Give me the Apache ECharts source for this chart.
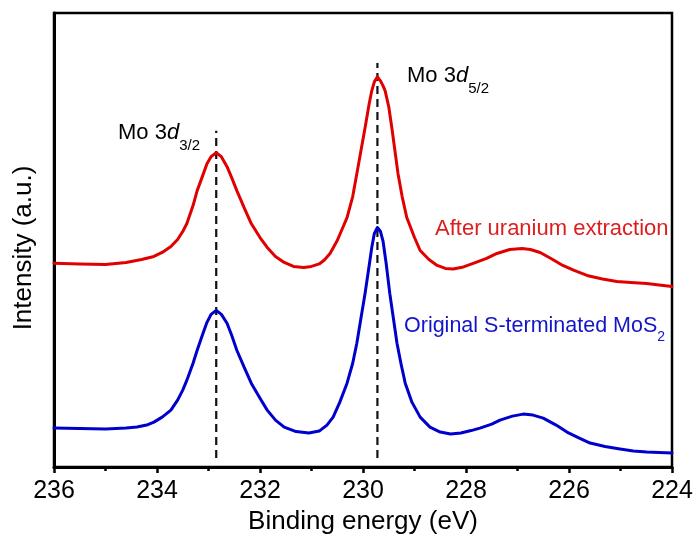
<!DOCTYPE html>
<html>
<head>
<meta charset="utf-8">
<script src="https://cdn.jsdelivr.net/npm/echarts@6/dist/echarts.min.js"></script>
<style>
  html, body { margin: 0; padding: 0; background: #fff; }
  #chart { width: 699px; height: 542px; }
</style>
</head>
<body>
<div id="chart"></div>
<script>
// Mo 3d XPS spectra (binding energy in eV, intensity in arbitrary units)
const energyAfter = [236.0, 235.5, 235.0, 234.6, 234.3, 234.06, 233.9, 233.73, 233.6, 233.5,
  233.42, 233.3, 233.22, 233.12, 233.03, 232.95, 232.85, 232.75, 232.64, 232.55,
  232.45, 232.3, 232.17, 232.0, 231.86, 231.7, 231.53, 231.35, 231.15, 231.0,
  230.85, 230.75, 230.64, 230.5, 230.4, 230.31, 230.2, 230.12, 230.04, 229.96, 229.88,
  229.83, 229.78, 229.72, 229.66, 229.61, 229.57, 229.5, 229.44, 229.38, 229.32,
  229.24, 229.15, 229.0, 228.89, 228.72, 228.56, 228.4, 228.25, 228.05, 227.86,
  227.6, 227.4, 227.15, 226.91, 226.75, 226.56, 226.35, 226.12, 225.9, 225.65,
  225.35, 225.07, 224.8, 224.49, 224.25, 224.0];
const intensityAfter = [204.3, 203.5, 203, 205, 208, 211, 215, 221, 228, 236,
  244, 262, 277, 291, 304, 311, 315, 311, 301, 290,
  277, 259, 244, 230, 220, 211, 205, 201, 200, 201,
  203.5, 207.5, 214, 227, 239, 250, 271, 294, 317, 340, 364,
  377, 386, 391, 387, 382, 377, 361, 340, 317, 294,
  271, 250, 230, 217, 208, 202, 199, 198.5, 200.5, 204,
  209, 214, 218, 219, 218, 215, 209, 202, 197, 192,
  188.5, 186, 185, 184, 182.5, 181];

const energyOriginal = [236.0, 235.5, 235.0, 234.6, 234.39, 234.2, 234.06, 233.9, 233.73, 233.6,
  233.5, 233.42, 233.3, 233.22, 233.12, 233.03, 232.95, 232.85, 232.75, 232.64,
  232.55, 232.45, 232.3, 232.17, 232.0, 231.86, 231.7, 231.53, 231.3, 231.05,
  230.85, 230.7, 230.58, 230.45, 230.31, 230.2, 230.12, 230.04, 229.96, 229.88,
  229.83, 229.78, 229.72, 229.66, 229.61, 229.55, 229.48, 229.41, 229.34, 229.26,
  229.18, 229.05, 228.89, 228.7, 228.5, 228.3, 228.1, 227.9, 227.73, 227.5,
  227.34, 227.1, 226.89, 226.7, 226.5, 226.25, 226.04, 225.8, 225.59, 225.3,
  225.01, 224.75, 224.49, 224.25, 224.0];
const intensityOriginal = [39, 38.5, 38, 39, 40, 42, 45, 50, 57, 67,
  77, 87, 104, 117, 132, 145, 153, 157, 153, 144,
  132, 117, 99, 84, 69, 57, 47, 40, 35.5, 34,
  36, 42, 50, 65, 84, 104, 124, 149, 174, 202,
  220, 234, 240, 236, 226, 204, 174, 149, 124, 103,
  84, 65, 50, 40, 35, 33, 34, 36.5, 39, 43,
  47, 51, 53, 52, 49, 42, 35, 29, 24, 20.5,
  18, 16, 15, 14.5, 14];

// Peak reference positions (dashed guides) and their vertical extent
const peakEnergy = [232.85, 229.72];
const guideTop = [337, 405];
const guideBottom = 9;

const xTicks = { min: 224, max: 236, step: 2 };
const yRange = { min: 0, max: 455 };

const FONT = '"Liberation Sans", Arial, sans-serif';

function pairs(xs, ys) { return xs.map((x, i) => [x, ys[i]]); }

const guideSeries = peakEnergy.map((e, i) => ({
  type: 'line',
  silent: true,
  symbol: 'none',
  z: 1,
  data: [[e, guideBottom], [e, guideTop[i]]],
  lineStyle: { color: '#111', width: 2.2, type: [8, 5] }
}));

const chart = echarts.init(document.getElementById('chart'), null, { renderer: 'canvas' });

chart.setOption({
  animation: false,
  backgroundColor: '#fff',
  grid: {
    left: 54, right: 27, top: 13, bottom: 75,
    show: true, borderColor: '#000', borderWidth: 2.5, backgroundColor: 'transparent'
  },
  xAxis: {
    type: 'value',
    inverse: true,
    min: xTicks.min, max: xTicks.max, interval: xTicks.step,
    name: 'Binding energy (eV)',
    nameLocation: 'middle',
    nameGap: 40,
    nameTextStyle: { fontSize: 26, color: '#000', fontFamily: FONT },
    axisLine: { show: true, lineStyle: { color: '#000', width: 3 } },
    axisTick: { show: true, inside: false, length: 6, lineStyle: { color: '#000', width: 2.5 } },
    minorTick: { show: true, splitNumber: 2, length: 4, lineStyle: { color: '#000', width: 2.5 } },
    axisLabel: { fontSize: 25, color: '#000', fontFamily: FONT, margin: 12 },
    splitLine: { show: false },
    minorSplitLine: { show: false }
  },
  yAxis: {
    type: 'value',
    min: yRange.min, max: yRange.max,
    axisLine: { show: true, lineStyle: { color: '#000', width: 3 } },
    axisTick: { show: false },
    axisLabel: { show: false },
    splitLine: { show: false }
  },
  series: [
    ...guideSeries,
    {
      name: 'After uranium extraction',
      type: 'line',
      smooth: false,
      symbol: 'none',
      z: 3,
      data: pairs(energyAfter, intensityAfter),
      lineStyle: { color: '#e00000', width: 3, join: 'round', cap: 'round' }
    },
    {
      name: 'Original S-terminated MoS2',
      type: 'line',
      smooth: false,
      symbol: 'none',
      z: 3,
      data: pairs(energyOriginal, intensityOriginal),
      lineStyle: { color: '#0000cc', width: 3, join: 'round', cap: 'round' }
    }
  ],
  graphic: [
    {
      type: 'text', x: 24, y: 248, rotation: Math.PI / 2,
      style: {
        text: 'Intensity (a.u.)', font: '26px ' + FONT, fill: '#000',
        textAlign: 'center', textVerticalAlign: 'middle'
      }
    },
    {
      type: 'text', x: 118, y: 133,
      style: {
        text: '{m|Mo 3}{i|d}{s|3/2}', fill: '#000',
        textAlign: 'left', textVerticalAlign: 'middle',
        rich: {
          m: { fontSize: 22, fontFamily: FONT, lineHeight: 22, fill: '#000' },
          i: { fontSize: 22, fontFamily: FONT, fontStyle: 'italic', lineHeight: 22, fill: '#000' },
          s: { fontSize: 15, fontFamily: FONT, lineHeight: 15, padding: [26, 0, 0, 0], fill: '#000' }
        }
      }
    },
    {
      type: 'text', x: 407, y: 76,
      style: {
        text: '{m|Mo 3}{i|d}{s|5/2}', fill: '#000',
        textAlign: 'left', textVerticalAlign: 'middle',
        rich: {
          m: { fontSize: 22, fontFamily: FONT, lineHeight: 22, fill: '#000' },
          i: { fontSize: 22, fontFamily: FONT, fontStyle: 'italic', lineHeight: 22, fill: '#000' },
          s: { fontSize: 15, fontFamily: FONT, lineHeight: 15, padding: [26, 0, 0, 0], fill: '#000' }
        }
      }
    },
    {
      type: 'text', x: 435, y: 229,
      style: {
        text: 'After uranium extraction', font: '22px ' + FONT, fill: '#dc1e1e',
        textAlign: 'left', textVerticalAlign: 'middle'
      }
    },
    {
      type: 'text', x: 404, y: 326,
      style: {
        text: '{m|Original S-terminated MoS}{s|2}', fill: '#1414c8',
        textAlign: 'left', textVerticalAlign: 'middle',
        rich: {
          m: { fontSize: 21.5, fontFamily: FONT, lineHeight: 22, fill: '#1414c8' },
          s: { fontSize: 14, fontFamily: FONT, lineHeight: 14, padding: [22, 0, 0, 0], fill: '#1414c8' }
        }
      }
    }
  ]
});
</script>
</body>
</html>
